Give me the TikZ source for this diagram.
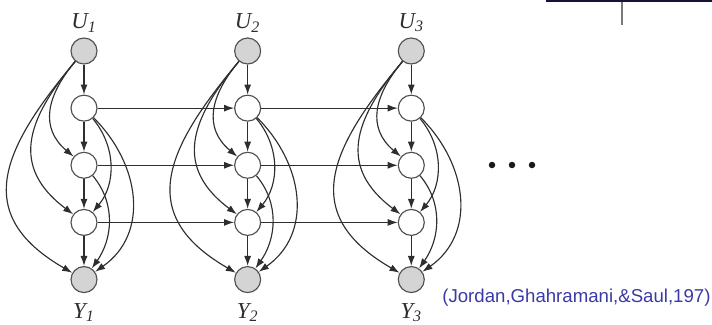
\documentclass[tikz,border=0pt]{standalone}
\usepackage{fontspec}
\setmainfont{Liberation Serif}
\newfontfamily\citefont{Liberation Sans}
\usetikzlibrary{arrows.meta,positioning}
\definecolor{ink}{HTML}{2E2E2E}
\definecolor{rim}{HTML}{505050}
\definecolor{obs}{HTML}{D4D4D4}
\definecolor{citeblue}{HTML}{3A3AA6}
\definecolor{navy}{HTML}{14143A}
\definecolor{rulegray}{HTML}{7A7A7A}
\tikzset{
  >={Latex[length=2mm,width=1.4mm]},
  every node/.style={text=ink},
  var/.style={circle,draw=rim,line width=0.65pt,minimum size=5.2mm,inner sep=0pt,fill=white},
  obsvar/.style={var,fill=obs},
  varlabel/.style={font=\fontsize{13}{15}\selectfont\itshape,inner sep=0pt},
  arrow/.style={->,line width=0.65pt,draw=ink},
  citation/.style={font=\citefont\fontsize{10.6}{12}\selectfont,text=citeblue,inner sep=0pt,anchor=west},
}

\begin{document}
\begin{tikzpicture}[node distance=6mm and 27.3mm]
\useasboundingbox (0,0) rectangle (14.24,-6.5);

% column 1
\node[obsvar] (u1) at (1.68,-1.02) {};
\node[var,below=of u1] (z11) {};
\node[var,below=of z11] (z21) {};
\node[var,below=of z21] (z31) {};
\node[obsvar,below=of z31] (y1) {};

% column 2
\node[obsvar,right=of u1] (u2) {};
\node[var,below=of u2] (z12) {};
\node[var,below=of z12] (z22) {};
\node[var,below=of z22] (z32) {};
\node[obsvar,below=of z32] (y2) {};

% column 3
\node[obsvar,right=of u2] (u3) {};
\node[var,below=of u3] (z13) {};
\node[var,below=of z13] (z23) {};
\node[var,below=of z23] (z33) {};
\node[obsvar,below=of z33] (y3) {};

\node[varlabel,above=1mm of u1] (lu1) {U\textsubscript{1}};
\node[varlabel,above=1mm of u2] (lu2) {U\textsubscript{2}};
\node[varlabel,above=1mm of u3] (lu3) {U\textsubscript{3}};
\node[varlabel,below=2mm of y1] (ly1) {Y\textsubscript{1}};
\node[varlabel,below=2mm of y2] (ly2) {Y\textsubscript{2}};
\node[varlabel,below=2mm of y3] (ly3) {Y\textsubscript{3}};

% column 1 edges
\draw[arrow] (u1) -- (z11);
\draw[arrow] (z11) -- (z21);
\draw[arrow] (z21) -- (z31);
\draw[arrow] (z31) -- (y1);
\draw[arrow] (u1) to[out=230,in=140,looseness=1.2] (z21);
\draw[arrow] (u1) to[out=230,in=143,looseness=1.3] (z31);
\draw[arrow] (u1) to[out=230,in=150,looseness=1.4] (y1);
\draw[arrow] (z11) to[out=-50,in=50] (z31);
\draw[arrow] (z11) to[out=-45,in=35,looseness=1.1] (y1);
\draw[arrow] (z21) to[out=-50,in=55] (y1);

% column 2 edges
\draw[arrow] (u2) -- (z12);
\draw[arrow] (z12) -- (z22);
\draw[arrow] (z22) -- (z32);
\draw[arrow] (z32) -- (y2);
\draw[arrow] (u2) to[out=230,in=140,looseness=1.2] (z22);
\draw[arrow] (u2) to[out=230,in=143,looseness=1.3] (z32);
\draw[arrow] (u2) to[out=230,in=150,looseness=1.4] (y2);
\draw[arrow] (z12) to[out=-50,in=50] (z32);
\draw[arrow] (z12) to[out=-45,in=35,looseness=1.1] (y2);
\draw[arrow] (z22) to[out=-50,in=55] (y2);

% column 3 edges
\draw[arrow] (u3) -- (z13);
\draw[arrow] (z13) -- (z23);
\draw[arrow] (z23) -- (z33);
\draw[arrow] (z33) -- (y3);
\draw[arrow] (u3) to[out=230,in=140,looseness=1.2] (z23);
\draw[arrow] (u3) to[out=230,in=143,looseness=1.3] (z33);
\draw[arrow] (u3) to[out=230,in=150,looseness=1.4] (y3);
\draw[arrow] (z13) to[out=-50,in=50] (z33);
\draw[arrow] (z13) to[out=-45,in=35,looseness=1.1] (y3);
\draw[arrow] (z23) to[out=-50,in=55] (y3);

% chains across time
\draw[arrow] (z11) -- (z12);
\draw[arrow] (z21) -- (z22);
\draw[arrow] (z31) -- (z32);
\draw[arrow] (z12) -- (z13);
\draw[arrow] (z22) -- (z23);
\draw[arrow] (z32) -- (z33);

% ellipsis
\fill[black!90] (9.84,-3.3) circle (0.065);
\fill[black!90] (10.24,-3.3) circle (0.065);
\fill[black!90] (10.64,-3.3) circle (0.065);

\node[citation] (cite) at (8.84,-5.96) {(Jordan,Ghahramani,\&Saul,197)};

% slide rules, top right
\draw[navy,line width=1.1pt] (10.92,-0.02) -- (14.24,-0.02);
\draw[rulegray,line width=0.9pt] (12.44,-0.04) -- (12.44,-0.5);

\end{tikzpicture}
\end{document}
